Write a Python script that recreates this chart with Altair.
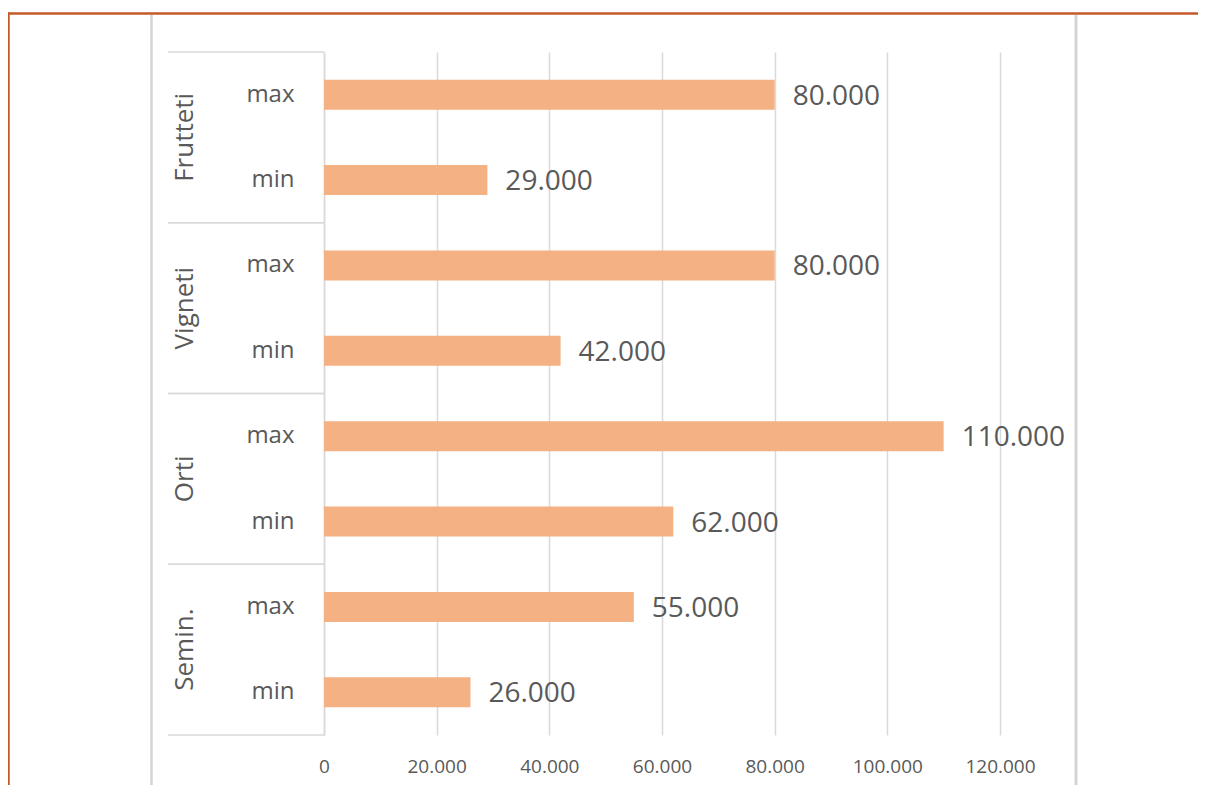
import altair as alt
import pandas as pd

# ---- data ----
groups = ["Frutteti", "Frutteti", "Vigneti", "Vigneti", "Orti", "Orti", "Semin.", "Semin."]
subs = ["max", "min", "max", "min", "max", "min", "max", "min"]
values = [80000, 29000, 80000, 42000, 110000, 62000, 55000, 26000]
x_ticks = [0, 20000, 40000, 60000, 80000, 100000, 120000]

df = pd.DataFrame({"group": groups, "sub": subs, "value": values})
df["row"] = df["group"] + "|" + df["sub"]
row_order = list(df["row"])

TEXT = "#595959"
GRID = "#d9d9d9"
BAR = "#F4B183"
FONT = "Open Sans"

y_enc = alt.Y(
    "row:N",
    sort=row_order,
    scale=alt.Scale(domain=row_order, paddingInner=0, paddingOuter=0),
    axis=alt.Axis(
        title=None,
        labelExpr="split(datum.value, '|')[1]",
        ticks=False,
        domain=True,
        domainColor=GRID,
        domainWidth=1.5,
        labelPadding=30,
        labelFontSize=24,
        labelColor=TEXT,
        labelFont=FONT,
        grid=False,
    ),
)

x_enc = alt.X(
    "value:Q",
    scale=alt.Scale(domain=[0, 120000], nice=False),
    axis=alt.Axis(
        title=None,
        values=x_ticks,
        labelExpr="replace(format(datum.value, ','), ',', '.')",
        labelFlush=False,
        grid=True,
        gridColor=GRID,
        gridWidth=1.5,
        domain=False,
        ticks=False,
        labelPadding=22,
        labelFontSize=19,
        labelColor=TEXT,
        labelFont=FONT,
    ),
)

base = alt.Chart(df)

bars = base.mark_bar(color=BAR, size=30).encode(x=x_enc, y=y_enc)

labels = base.transform_calculate(
    lbl="replace(format(datum.value, ','), ',', '.')"
).mark_text(
    align="left", baseline="middle", dx=18, dy=2, fontSize=28, color=TEXT, font=FONT
).encode(x="value:Q", y=alt.Y("row:N", sort=row_order), text="lbl:N")

cat_labels = base.transform_filter("datum.sub == 'max'").mark_text(
    angle=270, align="center", baseline="middle", fontSize=26, color=TEXT, font=FONT
).encode(
    x=alt.value(-139),
    y=alt.Y("row:N", sort=row_order, bandPosition=1),
    text="group:N",
)

sep_top = base.transform_filter("datum.sub == 'max'").mark_rule(
    color=GRID, strokeWidth=1.5
).encode(
    x=alt.value(-156), x2=alt.value(0),
    y=alt.Y("row:N", sort=row_order, bandPosition=0),
)

sep_bot = base.transform_filter("datum.sub == 'min'").mark_rule(
    color=GRID, strokeWidth=1.5
).encode(
    x=alt.value(-156), x2=alt.value(0),
    y=alt.Y("row:N", sort=row_order, bandPosition=1),
)

frame_df = pd.DataFrame({"k": [0]})
frame = alt.Chart(frame_df)
orange_top = frame.mark_rule(color="#C55A28", strokeWidth=2.5).encode(
    x=alt.value(-316), x2=alt.value(900), y=alt.value(-38.5)
)
orange_left = frame.mark_rule(color="#C55A28", strokeWidth=2.5).encode(
    x=alt.value(-315.5), y=alt.value(-39.5), y2=alt.value(760)
)
grey_left = frame.mark_rule(color="#d4d4d4", strokeWidth=2.5).encode(
    x=alt.value(-172.5), y=alt.value(-37), y2=alt.value(760)
)
grey_right = frame.mark_rule(color="#d4d4d4", strokeWidth=3).encode(
    x=alt.value(752), y=alt.value(-37), y2=alt.value(760)
)

chart = alt.layer(
    sep_top, sep_bot, bars, labels, cat_labels,
    orange_top, orange_left, grey_left, grey_right,
).properties(
    width=676,
    height=683,
    padding={"left": 316, "top": 44, "right": 198, "bottom": 50},
    autosize=alt.AutoSizeParams(type="none"),
    background="white",
).configure_view(stroke=None)

chart.save("out.html", embed_options={"renderer": "svg", "actions": False})
